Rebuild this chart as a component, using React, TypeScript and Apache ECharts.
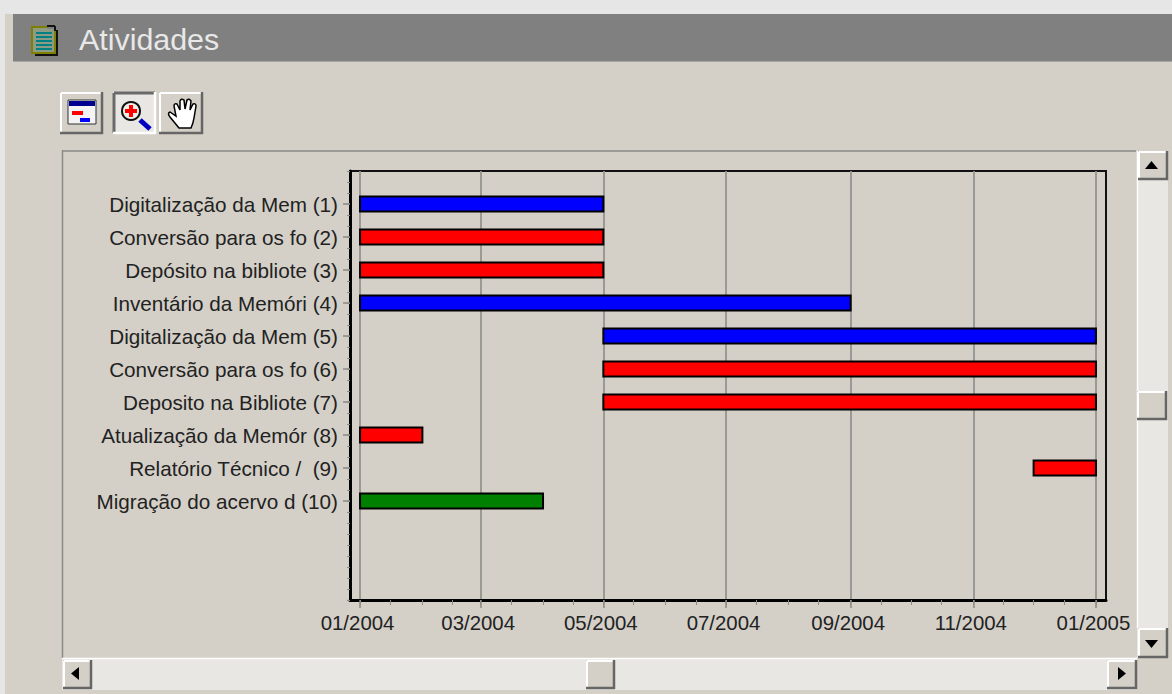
import React, { useEffect, useRef } from "react";
import * as echarts from "echarts";

const d = (y: number, m: number, day = 1) => new Date(y, m - 1, day).getTime();

const rowLabels = [
  "Digitalização da Mem (1)",
  "Conversão para os fo (2)",
  "Depósito na bibliote (3)",
  "Inventário da Memóri (4)",
  "Digitalização da Mem (5)",
  "Conversão para os fo (6)",
  "Deposito na Bibliote (7)",
  "Atualização da Memór (8)",
  "Relatório Técnico /  (9)",
  "Migração do acervo d (10)",
];
const taskStarts = [
  d(2004, 1), d(2004, 1), d(2004, 1), d(2004, 1), d(2004, 5),
  d(2004, 5), d(2004, 5), d(2004, 1), d(2004, 12), d(2004, 1),
];
const taskEnds = [
  d(2004, 5), d(2004, 5), d(2004, 5), d(2004, 9), d(2005, 1),
  d(2005, 1), d(2005, 1), d(2004, 2), d(2005, 1), d(2004, 4),
];
const taskColors = [
  "#0000ff", "#ff0000", "#ff0000", "#0000ff", "#0000ff",
  "#ff0000", "#ff0000", "#ff0000", "#ff0000", "#008000",
];
const tickDates = [d(2004, 1), d(2004, 3), d(2004, 5), d(2004, 7), d(2004, 9), d(2004, 11), d(2005, 1)];
const tickLabels = ["01/2004", "03/2004", "05/2004", "07/2004", "09/2004", "11/2004", "01/2005"];
const minorTickDates = [
  d(2004, 1), d(2004, 1, 16), d(2004, 2), d(2004, 2, 16), d(2004, 3), d(2004, 3, 16),
  d(2004, 4), d(2004, 4, 16), d(2004, 5), d(2004, 5, 16), d(2004, 6), d(2004, 6, 16),
  d(2004, 7), d(2004, 7, 16), d(2004, 8), d(2004, 8, 16), d(2004, 9), d(2004, 9, 16),
  d(2004, 10), d(2004, 10, 16), d(2004, 11), d(2004, 11, 16), d(2004, 12), d(2004, 12, 16),
  d(2005, 1),
];
const axisMin = d(2003, 12, 27);
const axisMax = d(2005, 1, 6);

const PANEL = "#d4d0c8";
const TRACK = "#e9e7e3";
const FONT = "'Liberation Sans', Arial, sans-serif";

echarts.graphic.registerShape(
  "handIcon",
  echarts.graphic.extendPath(
    "M179 128 L170 117 Q167 113 170 112 L176 116 L174 106 Q174 103 177 104 L180 110 L180 101 Q181 98 184 100 L185 109 L187 100 Q189 98 191 101 L190 110 L193 104 Q196 103 196 106 L194 118 Q193 124 191 128 Z",
    {}
  )
);

const rect = (x: number, y: number, width: number, height: number, fill: string, extra: any = {}) => ({
  type: "rect",
  silent: true,
  shape: { x, y, width, height },
  style: { fill, ...extra },
});
const line = (x1: number, y1: number, x2: number, y2: number, stroke: string, lineWidth = 1) => ({
  type: "line",
  silent: true,
  shape: { x1, y1, x2, y2 },
  style: { stroke, lineWidth },
});
const tri = (points: number[][]) => ({
  type: "polygon",
  silent: true,
  shape: { points },
  style: { fill: "#000" },
});
const button = (x: number, y: number, w: number, h: number, pressed = false) => {
  const tl = pressed ? "#6a6a6a" : "#fff";
  const br = pressed ? "#fff" : "#666";
  const tlw = pressed ? 3 : 2;
  return [
    rect(x, y, w, h, pressed ? TRACK : PANEL),
    line(x + 1, y + 1, x + w - 1, y + 1, tl, tlw),
    line(x + 1, y + 1, x + 1, y + h - 1, tl, tlw),
    line(x, y + h - 1, x + w, y + h - 1, br, 2.5),
    line(x + w - 1, y, x + w - 1, y + h, br, 2.5),
  ];
};

const chrome: any[] = [
  rect(0, 0, 1172, 14, "#e6e6e6"),
  rect(0, 0, 5, 694, "#e6e6e6"),
  rect(13, 14, 1159, 47, "#808080"),
  line(13, 61.5, 1172, 61.5, "#a8a69f", 1),
  // title icon
  rect(35, 30, 23, 26, "#111"),
  rect(32, 27, 23, 26, "#8d9a86", { stroke: "#808000", lineWidth: 2 }),
  rect(47, 24, 9, 5, "#808080"),
  line(47, 26, 55, 26, "#111", 2),
  line(55, 26, 55, 31, "#111", 2),
  ...[33, 37, 41, 45, 49].map((y) => line(36, y, 52, y, "#008080", 2)),
  {
    type: "text",
    silent: true,
    style: { x: 79, y: 24, text: "Atividades", fontFamily: FONT, fontSize: 30.4, fill: "#e8e8e8" },
  },
  // toolbar
  ...button(60, 92, 43, 42),
  ...button(113, 92, 43, 42, true),
  ...button(159, 92, 44, 42),
  rect(68, 100, 28, 24, "#f4f4f4", { stroke: "#333", lineWidth: 1 }),
  rect(69, 101, 26, 5, "#000090"),
  rect(72, 111, 11, 4, "#ff0000"),
  rect(80, 118, 10, 4, "#0000ff"),
  { type: "circle", silent: true, shape: { cx: 131, cy: 111, r: 9 }, style: { fill: "#eeeeea", stroke: "#111", lineWidth: 2 } },
  rect(125, 109, 12, 4, "#ff0000"),
  rect(129, 105, 4, 12, "#ff0000"),
  line(140, 120, 150, 129, "#0000c0", 5),
  { type: "handIcon", silent: true, x: 0, y: 0, style: { fill: "#fff", stroke: "#000", lineWidth: 1.5 } },
  // plot frame
  line(62, 151, 1136, 151, "#8a8a86", 1.5),
  line(62.5, 150, 62.5, 658, "#8a8a86", 1.5),
  // vertical scrollbar
  rect(1137, 151, 31, 507, TRACK),
  line(1137.5, 151, 1137.5, 628, "#fff", 1.5),
  ...button(1138, 151, 30, 29),
  tri([[1145, 169], [1158, 169], [1151.5, 161]]),
  ...button(1137, 391, 30, 29),
  ...button(1138, 628, 30, 30),
  tri([[1145, 640], [1158, 640], [1151.5, 648]]),
  // horizontal scrollbar
  rect(62, 658, 1075, 32, TRACK),
  line(62, 658.5, 1137, 658.5, "#fff", 1.5),
  ...button(63, 660, 29, 29),
  tri([[79, 667], [79, 680], [71, 673.5]]),
  ...button(586, 660, 29, 29),
  ...button(1107, 660, 30, 29),
  tri([[1118, 667], [1118, 680], [1126, 673.5]]),
];

export default function App() {
  const ref = useRef<HTMLDivElement>(null);
  useEffect(() => {
    const chart = echarts.init(ref.current!, undefined, { renderer: "svg" });
    const categories = ["", ...rowLabels, "", "", ""];
    const data = rowLabels.map((_, i) => ({
      value: [taskStarts[i], taskEnds[i], i + 1],
      itemStyle: { color: taskColors[i] },
    }));
    chart.setOption({
      animation: false,
      backgroundColor: PANEL,
      textStyle: { fontFamily: FONT },
      graphic: { elements: chrome },
      grid: {
        left: 350,
        right: 66,
        top: 171,
        bottom: 94,
        containLabel: false,
        show: true,
        borderColor: "#111",
        borderWidth: 2,
        backgroundColor: "transparent",
      },
      xAxis: [
        {
          type: "value",
          scale: true,
          min: axisMin,
          max: axisMax,
          position: "bottom",
          axisLine: { show: true, onZero: false, lineStyle: { color: "#000", width: 3 } },
          axisTick: { show: true, length: 8, customValues: tickDates, lineStyle: { color: "#8a8a86", width: 1.5 } },
          splitLine: { show: true, lineStyle: { color: "#94948f", width: 1.8 } },
          axisLabel: {
            show: true,
            customValues: tickDates,
            margin: 13,
            fontSize: 20.4,
            color: "#222",
            fontFamily: FONT,
            padding: [0, 5, 0, 0],
            hideOverlap: false,
            showMinLabel: true,
            showMaxLabel: true,
            formatter: (v: number) => tickLabels[tickDates.indexOf(v)] ?? "",
          },
        },
        {
          type: "value",
          scale: true,
          min: axisMin,
          max: axisMax,
          position: "bottom",
          axisLine: { show: false, onZero: false },
          axisTick: { show: true, length: 5, customValues: minorTickDates, lineStyle: { color: "#8a8a86", width: 1 } },
          splitLine: { show: false },
          axisLabel: { show: false },
        },
      ],
      yAxis: [
        {
          type: "category",
          data: categories,
          inverse: true,
          boundaryGap: false,
          position: "left",
          axisLine: { show: true, onZero: false, lineStyle: { color: "#000", width: 3 } },
          axisTick: {
            show: true,
            length: 7,
            alignWithLabel: true,
            customValues: rowLabels.map((_, i) => i + 1),
            lineStyle: { color: "#8a8a86", width: 1.5 },
          },
          splitLine: { show: false },
          axisLabel: { show: true, interval: 0, margin: 12, fontSize: 20.7, color: "#222", fontFamily: FONT },
        },
        {
          type: "value",
          inverse: true,
          min: 0,
          max: 39,
          interval: 1,
          position: "left",
          axisLine: { show: false, onZero: false },
          axisTick: { show: true, length: 3, lineStyle: { color: "#8a8a86", width: 1 } },
          splitLine: { show: false },
          axisLabel: { show: false },
        },
      ],
      series: [
        {
          type: "custom",
          xAxisIndex: 0,
          yAxisIndex: 0,
          encode: { x: [0, 1], y: 2 },
          clip: false,
          data,
          renderItem: (params: any, api: any) => {
            const a = api.coord([api.value(0), api.value(2)]);
            const b = api.coord([api.value(1), api.value(2)]);
            return {
              type: "rect",
              shape: { x: a[0], y: a[1] - 7.5, width: b[0] - a[0], height: 15 },
              style: { fill: api.visual("color"), stroke: "#000", lineWidth: 2 },
            };
          },
        },
      ],
    });
    return () => chart.dispose();
  }, []);
  return <div ref={ref} style={{ position: "fixed", left: 0, top: 0, width: 1172, height: 694 }} />;
}
